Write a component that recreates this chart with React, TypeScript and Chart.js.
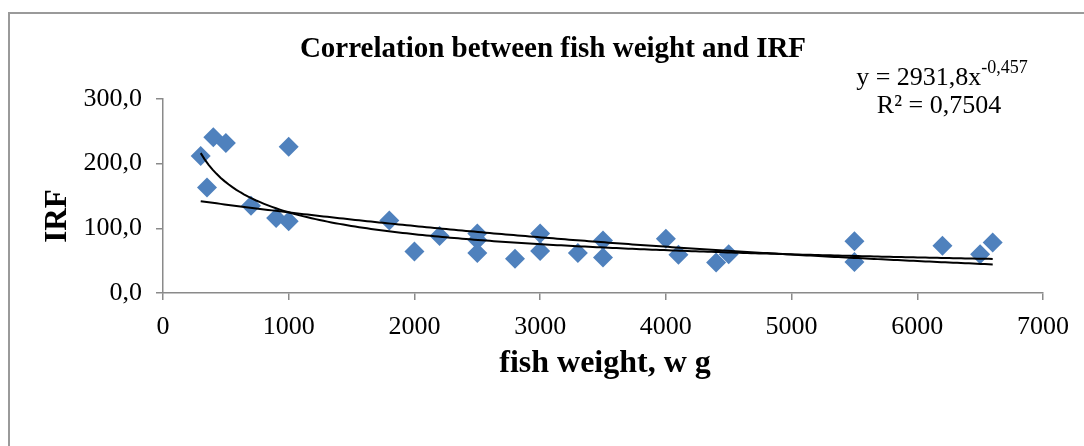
import React, { useEffect, useRef } from "react";
import { Chart, registerables } from "chart.js";

Chart.register(...registerables);

// Observed data: fish weight (g) and IRF
const WEIGHTS = [300, 350, 400, 500, 700, 900, 1000, 1000, 1800, 2000, 2200, 2500, 2500, 2500, 2800, 3000, 3000, 3300, 3500, 3500, 4000, 4100, 4400, 4500, 5500, 5500, 6200, 6500, 6600];
const IRF = [212, 163, 241, 232, 135, 116, 226, 111, 112, 64, 88, 92, 82, 62, 53, 92, 65, 62, 81, 55, 84, 59, 47, 60, 80, 48, 73, 60, 78];

const X_TICKS = [0, 1000, 2000, 3000, 4000, 5000, 6000, 7000];
const Y_TICKS = [0, 100, 200, 300];

// Trendline coefficients (power as shown on chart, exponential estimated)
const POWER_A = 2931.8;
const POWER_B = -0.457;
const EXP_A = 150;
const EXP_B = -0.000185;
const TREND_FROM = 300;
const TREND_TO = 6600;

const TITLE = "Correlation between fish weight and IRF";
const X_TITLE = "fish weight, w g";
const Y_TITLE = "IRF";

function curve(f: (x: number) => number) {
  const pts: { x: number; y: number }[] = [];
  const n = 200;
  for (let i = 0; i <= n; i++) {
    const x = TREND_FROM + ((TREND_TO - TREND_FROM) * i) / n;
    pts.push({ x, y: f(x) });
  }
  return pts;
}

const FONT = "'Liberation Serif', 'Times New Roman', serif";

const textPlugin = {
  id: "texts",
  afterDraw(chart: any) {
    const ctx = chart.ctx as CanvasRenderingContext2D;
    ctx.save();
    ctx.fillStyle = "#000";
    ctx.textAlign = "center";
    ctx.textBaseline = "alphabetic";
    ctx.font = `bold 29px ${FONT}`;
    ctx.fillText(TITLE, 553, 57);
    ctx.font = `bold 32px ${FONT}`;
    ctx.fillText(X_TITLE, 605, 372);
    ctx.save();
    ctx.translate(66, 216);
    ctx.rotate(-Math.PI / 2);
    ctx.font = `bold 31px ${FONT}`;
    ctx.fillText(Y_TITLE, 0, 0);
    ctx.restore();
    // equation
    ctx.textAlign = "left";
    ctx.font = `26px ${FONT}`;
    const main = "y = 2931,8x";
    const w = ctx.measureText(main).width;
    ctx.font = `18px ${FONT}`;
    const sup = "-0,457";
    const ws = ctx.measureText(sup).width;
    const total = w + ws;
    const cx = 942;
    const x0 = cx - total / 2;
    ctx.font = `26px ${FONT}`;
    ctx.fillText(main, x0, 85);
    ctx.font = `18px ${FONT}`;
    ctx.fillText(sup, x0 + w, 73);
    ctx.textAlign = "center";
    ctx.font = `26px ${FONT}`;
    ctx.fillText("R² = 0,7504", 939, 113);
    ctx.restore();
  },
};

export default function App() {
  const ref = useRef<HTMLCanvasElement>(null);
  useEffect(() => {
    if (!ref.current) return;
    const axisColor = "#8a8a8a";
    const chart = new Chart(ref.current, {
      type: "scatter",
      data: {
        datasets: [
          {
            label: "IRF",
            data: WEIGHTS.map((x, i) => ({ x, y: IRF[i] })),
            pointStyle: "rectRot",
            pointRadius: 10,
            pointHoverRadius: 10,
            backgroundColor: "#4F81BD",
            borderColor: "#4F81BD",
            borderWidth: 0,
            order: 2,
          },
          {
            label: "Power",
            data: curve((x) => POWER_A * Math.pow(x, POWER_B)),
            showLine: true,
            pointRadius: 0,
            borderColor: "#000",
            borderWidth: 2,
            order: 1,
          },
          {
            label: "Exp",
            data: curve((x) => EXP_A * Math.exp(EXP_B * x)),
            showLine: true,
            pointRadius: 0,
            borderColor: "#000",
            borderWidth: 2,
            order: 1,
          },
        ],
      },
      options: {
        animation: false,
        responsive: false,
        events: [],
        layout: { padding: { left: 0, top: 99, right: 41, bottom: 0 } },
        plugins: { legend: { display: false }, tooltip: { enabled: false }, title: { display: false } },
        scales: {
          x: {
            type: "linear",
            min: 0,
            max: 7000,
            afterBuildTicks: (s: any) => { s.ticks = X_TICKS.map((v) => ({ value: v })); },
            afterFit: (s: any) => { s.height = 446 - 293; },
            grid: { drawOnChartArea: false, color: axisColor, tickLength: 7, lineWidth: 1.5 },
            border: { color: axisColor, width: 1.5 },
            ticks: {
              color: "#000",
              font: { family: FONT, size: 26 },
              padding: 12,
              maxRotation: 0,
              autoSkip: false,
              callback: (v: any) => String(v),
            },
          },
          y: {
            type: "linear",
            min: 0,
            max: 300,
            afterBuildTicks: (s: any) => { s.ticks = Y_TICKS.map((v) => ({ value: v })); },
            afterFit: (s: any) => { s.width = 163; },
            grid: { drawOnChartArea: false, color: axisColor, tickLength: 7, lineWidth: 1.5 },
            border: { color: axisColor, width: 1.5 },
            ticks: {
              color: "#000",
              font: { family: FONT, size: 26 },
              padding: 14,
              callback: (v: any) => Number(v).toFixed(1).replace(".", ","),
            },
          },
        },
      },
      plugins: [textPlugin],
    });
    return () => chart.destroy();
  }, []);
  return (
    <div style={{ position: "fixed", left: 0, top: 0, width: 1084, height: 446, overflow: "hidden", background: "#fff" }}>
      <div style={{ position: "absolute", left: 8, top: 12, width: 1200, height: 600, border: "2px solid #9a9a9a" }} />
      <canvas ref={ref} width={1084} height={446} style={{ position: "absolute", left: 0, top: 0, width: 1084, height: 446 }} />
    </div>
  );
}
